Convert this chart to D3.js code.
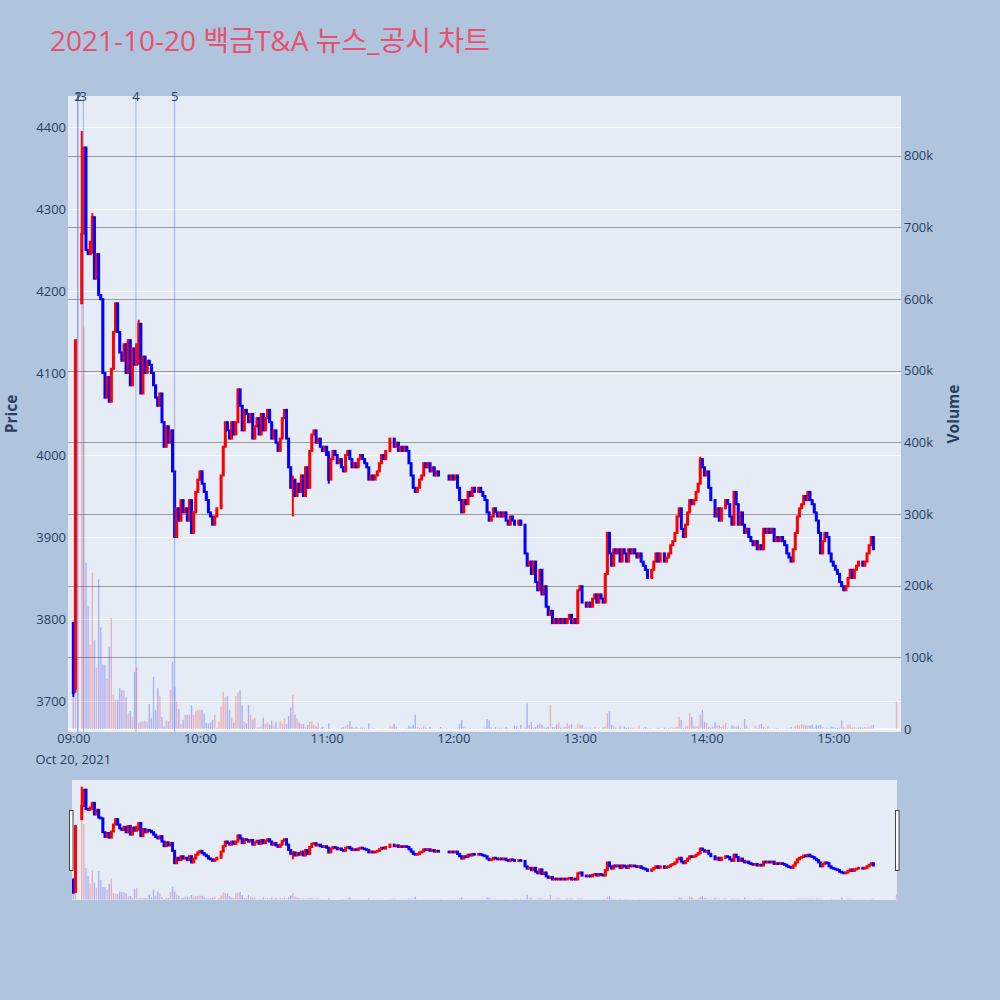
<!DOCTYPE html>
<html>
<head>
<meta charset="utf-8">
<script src="https://cdn.jsdelivr.net/npm/d3@7"></script>
<style>
  body { margin: 0; background: #B0C4DE; }
  svg { display: block; }
</style>
</head>
<body>
<div id="chart"></div>
<script>

// ---- data (1-minute candles from 09:00, null = no trade / VI halt) ----
var day = '2021-10-20';
var firstMinute = '09:00';

var closes = [
	3710, 4140, null, null, 4270, 4375, 4250, 4245, 4260, 4290,
	4215, 4245, 4195, 4190, 4100, 4070, 4095, 4065, 4105, 4150,
	4185, 4150, 4125, 4115, 4135, 4100, 4140, 4085, 4130, 4110,
	4135, 4160, 4075, 4120, 4100, 4115, 4110, 4100, 4085, 4070,
	4060, 4075, 4040, 4010, 4035, 4015, 4030, 3980, 3900, 3935,
	3920, 3945, 3930, 3935, 3920, 3945, 3905, 3930, 3955, 3970,
	3980, 3965, 3955, 3945, 3930, 3925, 3915, 3925, 3935, 3935,
	3975, 4010, 4040, 4030, 4020, 4040, 4025, 4040, 4080, 4060,
	4030, 4055, 4050, 4040, 4050, 4020, 4035, 4045, 4025, 4050,
	4030, 4045, 4055, 4040, 4020, 4030, 4015, 4005, 4020, 4045,
	4055, 4020, 3985, 3960, 3970, 3950, 3965, 3955, 3975, 3950,
	3985, 3960, 4005, 4025, 4030, 4015, 4020, 4010, 4005, 4010,
	4000, 3970, 3995, 4005, 4000, 3990, 3995, 3985, 3980, 4000,
	4005, 3995, 3985, 3990, 3985, 3995, 4000, 3995, 3990, 3985,
	3970, 3975, 3970, 3975, 3980, 3990, 4000, 3995, 4005, 4005,
	4020, 4020, 4010, 4015, 4005, 4010, 4005, 4010, 4005, 3990,
	3975, 3960, 3955, 3960, 3970, 3975, 3990, 3985, 3990, 3980,
	3985, 3975, 3980, 3975, 3975, 3975, 3975, 3975, 3970, 3975,
	3970, 3975, 3960, 3945, 3930, 3945, 3940, 3955, 3950, 3960,
	3955, 3955, 3960, 3955, 3950, 3945, 3930, 3920, 3925, 3935,
	3930, 3925, 3930, 3925, 3930, 3920, 3915, 3925, 3920, 3915,
	3915, 3920, 3915, 3915, 3880, 3865, 3870, 3855, 3870, 3845,
	3835, 3860, 3830, 3840, 3815, 3805, 3810, 3795, 3800, 3795,
	3800, 3795, 3800, 3795, 3800, 3805, 3795, 3800, 3795, 3835,
	3840, 3820, 3820, 3815, 3820, 3815, 3825, 3830, 3820, 3830,
	3825, 3820, 3855, 3905, 3880, 3865, 3885, 3880, 3885, 3870,
	3885, 3880, 3870, 3885, 3880, 3885, 3880, 3875, 3880, 3870,
	3865, 3860, 3850, 3850, 3860, 3870, 3880, 3870, 3880, 3880,
	3870, 3875, 3880, 3890, 3895, 3905, 3925, 3935, 3910, 3900,
	3915, 3930, 3945, 3940, 3945, 3955, 3965, 3995, 3985, 3975,
	3980, 3960, 3945, 3945, 3925, 3935, 3920, 3935, 3935, 3945,
	3940, 3925, 3915, 3955, 3940, 3915, 3930, 3915, 3905, 3910,
	3900, 3895, 3890, 3895, 3885, 3890, 3885, 3910, 3905, 3910,
	3905, 3910, 3895, 3900, 3895, 3900, 3895, 3890, 3880, 3875,
	3870, 3885, 3905, 3925, 3935, 3940, 3950, 3945, 3955, 3945,
	3940, 3930, 3920, 3905, 3880, 3895, 3905, 3900, 3880, 3870,
	3865, 3860, 3855, 3845, 3840, 3835, 3840, 3850, 3860, 3850,
	3860, 3865, 3870, 3870, 3865, 3870, 3880, 3890, 3900, 3885
];

// volume in thousands of shares
var volumes = [
	153, 230, null, null, 835, 560, 232, 172, 118, 218,
	124, 86, 209, 142, 90, 90, 70, 115, 155, 48,
	41, 41, 57, 54, 54, 45, 22, 25, 17, 80,
	86, 9, 10, 11, 11, 10, 35, 16, 73, 27,
	57, 46, 17, 4, 12, 11, 55, 94, 58, 39,
	28, 7, 13, 20, 20, 20, 33, 20, 25, 27,
	27, 27, 21, 9, 8, 10, 13, 20, 2, 11,
	31, 52, 44, 46, 27, 16, 9, 46, 51, 54,
	33, 11, 8, 34, 20, 13, 16, 2, 3, 4,
	16, 7, 9, 6, 12, 4, 10, 2, 11, 9,
	15, 7, 18, 30, 48, 20, 15, 9, 7, 7,
	3, 6, 10, 11, 6, 4, 9, 1, 3, 2,
	1, 8, 1, 0.5, 0.5, 0, 0.5, 2, 3, 4,
	6, 11, 3, 2, 3, 2, 2, 2, 1, 1,
	8, 0.5, 2, 1, 0.5, 0.5, 1, 0.5, 1, 1,
	4, 4, 7, 3, 0.5, 1, 0.5, 1, 1, 5,
	3, 6, 20, 3, 2, 2, 4, 2, 1, 3,
	1, 0.5, 1, 1, 3, 1, 0.5, 1, 0.5, 1,
	0.5, 1, 2, 7, 13, 3, 1, 0.5, 1, 0.5,
	1, 0.5, 1, 0.5, 1, 2, 14, 12, 3, 1,
	3, 1, 2, 1, 1, 3, 1, 1, 1, 5,
	4, 1, 6, 1, 2, 36, 6, 10, 2, 3,
	6, 9, 6, 3, 2, 3, 34, 3, 3, 7,
	9, 2, 2, 3, 9, 5, 7, 1, 1, 7,
	6, 6, 1, 2, 0.5, 2, 1, 3, 0.5, 2,
	0.5, 3, 4, 22, 25, 6, 5, 2, 1, 5,
	1, 4, 2, 3, 2, 2, 1, 1, 5, 1,
	1, 3, 1, 1, 1, 0.5, 1, 2, 1, 0.5,
	2, 1, 1, 2, 2, 2, 3, 17, 13, 1,
	4, 5, 23, 17, 5, 4, 4, 20, 27, 10,
	9, 3, 2, 3, 10, 5, 5, 3, 6, 9,
	1, 1, 5, 5, 3, 5, 2, 1, 14, 5,
	1, 0.5, 1, 5, 2, 6, 7, 3, 1, 4,
	1, 0.5, 1, 2, 1, 0.5, 1, 0.5, 1, 1,
	3, 1, 4, 6, 5, 7, 6, 5, 5, 5,
	6, 2, 6, 5, 6, 3, 1, 2, 1, 4,
	3, 2, 2, 2, 12, 2, 2, 6, 6, 2,
	3, 2, 3, 3, 2, 3, 2, 3, 5, 6
];

// opens that differ from the previous close: [minute, open]
var openGaps = [[0, 3795], [1, 3715], [4, 4185]];
// candles with visible shadows: [minute, high, low]
var wicks = [[0, 3795, 3705], [1, 4140, 3710], [4, 4395, 4185], [9, 4295, 4245], [31, 4165, 4110], [104, 3975, 3925], [121, 4005, 3965], [297, 3998, 3965]];

// closing single-price auction
var auctionTime = '15:30';
var auctionPrice = 3950;
var auctionVolume = 39;

// news / disclosure markers
var eventTimes = ['09:02:05', '09:02:10', '09:04:45', '09:29:40', '09:48:00'];
var eventLabels = ['1', '2', '3', '4', '5'];

var priceTicks = [3700, 3800, 3900, 4000, 4100, 4200, 4300, 4400];
var volumeTicks = [0, 100, 200, 300, 400, 500, 600, 700, 800];

var title = '2021-10-20 백금T&A 뉴스_공시 차트';

// ---- build candles ----
var parse = d3.timeParse('%Y-%m-%d %H:%M:%S');
var t0 = parse(day + ' ' + firstMinute + ':00');

var candles = [];
var prevClose = null;
var lastDir = 'up';
closes.forEach(function (c, i) {
	if (c === null) return;
	var gap = openGaps.find(function (g) { return g[0] === i; });
	var o = gap ? gap[1] : prevClose;
	var w = wicks.find(function (g) { return g[0] === i; });
	var dir = c > o ? 'up' : (c < o ? 'down' : lastDir);
	candles.push({
		t: d3.timeMinute.offset(t0, i),
		o: o, c: c,
		h: w ? w[1] : Math.max(o, c),
		l: w ? w[2] : Math.min(o, c),
		v: volumes[i],
		dir: dir
	});
	lastDir = dir;
	prevClose = c;
});
candles.push({
	t: parse(day + ' ' + auctionTime + ':00'),
	o: auctionPrice, c: auctionPrice, h: auctionPrice, l: auctionPrice,
	v: auctionVolume,
	dir: auctionPrice >= prevClose ? 'up' : 'down'
});

var colors = { up: '#ff0000', down: '#0000ff' };

// ---- layout ----
var W = 1000, H = 1000;
var plot = { left: 68, right: 901, top: 96, bottom: 732 };
var slider = { left: 72, right: 897, top: 780, bottom: 900 };
var font = '"Open Sans", verdana, arial, sans-serif';
var textColor = '#2a3f5f';
var tickSize = '13px';

var svg = d3.select('#chart').append('svg')
	.attr('width', W)
	.attr('height', H)
	.style('background', '#B0C4DE');

var x = d3.scaleTime()
	.domain([parse(day + ' 08:57:29'), parse(day + ' 15:32:06')])
	.range([plot.left, plot.right]);

var yPrice = d3.scaleLinear().domain([3662.2, 4437.8]).range([plot.bottom, plot.top]);
var yVol = d3.scaleLinear().domain([-4, 883]).range([plot.bottom, plot.top]);

var ySlidePrice = d3.scaleLinear().domain(yPrice.domain()).range([slider.bottom, slider.top]);
var ySlideVol = d3.scaleLinear().domain(yVol.domain()).range([slider.bottom, slider.top]);

var defs = svg.append('defs');
defs.append('clipPath').attr('id', 'clip-main')
	.append('rect')
	.attr('x', plot.left).attr('y', plot.top)
	.attr('width', plot.right - plot.left).attr('height', plot.bottom - plot.top);
defs.append('clipPath').attr('id', 'clip-slider')
	.append('rect')
	.attr('x', slider.left).attr('y', slider.top)
	.attr('width', slider.right - slider.left).attr('height', slider.bottom - slider.top);

// plot background
svg.append('rect')
	.attr('x', plot.left).attr('y', plot.top)
	.attr('width', plot.right - plot.left).attr('height', plot.bottom - plot.top)
	.attr('fill', '#E5ECF6');

// price grid (white)
svg.append('g').selectAll('line')
	.data(priceTicks)
	.join('line')
	.attr('x1', plot.left).attr('x2', plot.right)
	.attr('y1', function (d) { return Math.round(yPrice(d)) + 0.5; })
	.attr('y2', function (d) { return Math.round(yPrice(d)) + 0.5; })
	.attr('stroke', '#ffffff')
	.attr('stroke-width', 1);

// volume grid (grey)
svg.append('g').selectAll('line')
	.data(volumeTicks.filter(function (d) { return d > 0; }))
	.join('line')
	.attr('x1', plot.left).attr('x2', plot.right)
	.attr('y1', function (d) { return Math.round(yVol(d)) + 0.5; })
	.attr('y2', function (d) { return Math.round(yVol(d)) + 0.5; })
	.attr('stroke', '#9a9a9a')
	.attr('stroke-width', 1);

// volume zero line
svg.append('line')
	.attr('x1', plot.left).attr('x2', plot.right)
	.attr('y1', yVol(0)).attr('y2', yVol(0))
	.attr('stroke', '#ffffff')
	.attr('stroke-width', 2);

function drawSeries(g, yP, yV) {

	// volume bars
	g.append('g').selectAll('rect')
		.data(candles)
		.join('rect')
		.attr('x', function (d) { return x(d.t) - 0.7; })
		.attr('width', 1.4)
		.attr('y', function (d) { return yV(d.v); })
		.attr('height', function (d) { return yV(0) - yV(d.v); })
		.attr('fill', function (d) { return colors[d.dir]; })
		.attr('fill-opacity', 0.25);

	var c = g.append('g').selectAll('g')
		.data(candles)
		.join('g');

	// shadows
	c.append('line')
		.attr('x1', function (d) { return x(d.t); })
		.attr('x2', function (d) { return x(d.t); })
		.attr('y1', function (d) { return yP(d.h); })
		.attr('y2', function (d) { return yP(d.l); })
		.attr('stroke', function (d) { return colors[d.dir]; })
		.attr('stroke-width', 2);

	// bodies
	c.append('rect')
		.attr('x', function (d) { return x(d.t) - 0.5; })
		.attr('width', 1)
		.attr('y', function (d) { return yP(Math.max(d.o, d.c)); })
		.attr('height', function (d) { return Math.abs(yP(d.o) - yP(d.c)); })
		.attr('fill', function (d) { return colors[d.dir]; })
		.attr('stroke', function (d) { return colors[d.dir]; })
		.attr('stroke-width', 2);
}

var mainG = svg.append('g').attr('clip-path', 'url(#clip-main)');
drawSeries(mainG, yPrice, yVol);

// event markers
var events = eventTimes.map(function (t, i) {
	return { t: parse(day + ' ' + t), label: eventLabels[i] };
});

svg.append('g').selectAll('line')
	.data(events)
	.join('line')
	.attr('x1', function (d) { return x(d.t); })
	.attr('x2', function (d) { return x(d.t); })
	.attr('y1', plot.top)
	.attr('y2', plot.bottom)
	.attr('stroke', 'royalblue')
	.attr('stroke-opacity', 0.45)
	.attr('stroke-width', 1);

svg.append('g').selectAll('text')
	.data(events)
	.join('text')
	.attr('x', function (d) { return x(d.t); })
	.attr('y', plot.top + 5)
	.attr('text-anchor', 'middle')
	.attr('font-family', font)
	.attr('font-size', tickSize)
	.attr('fill', textColor)
	.text(function (d) { return d.label; });

// ---- axes ----
var axisLeft = svg.append('g')
	.attr('transform', 'translate(' + plot.left + ',0)')
	.call(d3.axisLeft(yPrice).tickValues(priceTicks).tickSize(0).tickPadding(2).tickFormat(d3.format('d')));

var axisRight = svg.append('g')
	.attr('transform', 'translate(' + plot.right + ',0)')
	.call(d3.axisRight(yVol).tickValues(volumeTicks).tickSize(0).tickPadding(3)
		.tickFormat(function (d) { return d === 0 ? '0' : d + 'k'; }));

var axisBottom = svg.append('g')
	.attr('transform', 'translate(0,' + plot.bottom + ')')
	.call(d3.axisBottom(x).ticks(d3.timeHour.every(1)).tickSize(0).tickPadding(2)
		.tickFormat(d3.timeFormat('%H:%M')));

[axisLeft, axisRight, axisBottom].forEach(function (a) {
	a.select('.domain').remove();
	a.selectAll('text')
		.attr('font-family', font)
		.attr('font-size', tickSize)
		.attr('fill', textColor);
});

svg.append('text')
	.attr('x', x(t0))
	.attr('y', 764)
	.attr('text-anchor', 'middle')
	.attr('font-family', font)
	.attr('font-size', tickSize)
	.attr('fill', textColor)
	.text(d3.timeFormat('%b %-d, %Y')(t0));

// axis titles
svg.append('text')
	.attr('transform', 'translate(17,' + (plot.top + plot.bottom) / 2 + ') rotate(-90)')
	.attr('text-anchor', 'middle')
	.attr('font-family', font)
	.attr('font-size', '15.5px')
	.attr('font-weight', 'bold')
	.attr('fill', textColor)
	.text('Price');

svg.append('text')
	.attr('transform', 'translate(959,' + (plot.top + plot.bottom) / 2 + ') rotate(-90)')
	.attr('text-anchor', 'middle')
	.attr('font-family', font)
	.attr('font-size', '15.5px')
	.attr('font-weight', 'bold')
	.attr('fill', textColor)
	.text('Volume');

// ---- range slider ----
svg.append('rect')
	.attr('x', slider.left).attr('y', slider.top)
	.attr('width', slider.right - slider.left).attr('height', slider.bottom - slider.top)
	.attr('fill', '#E5ECF6');

var slideG = svg.append('g').attr('clip-path', 'url(#clip-slider)');
drawSeries(slideG, ySlidePrice, ySlideVol);

[slider.left - 2.5, slider.right - 1.5].forEach(function (hx) {
	svg.append('rect')
		.attr('x', hx).attr('y', 810.5)
		.attr('width', 3.5).attr('height', 60)
		.attr('fill', '#ffffff')
		.attr('stroke', '#444')
		.attr('stroke-width', 1);
});

// ---- title ----
svg.append('text')
	.attr('x', 50)
	.attr('y', 51)
	.attr('font-family', '"Open Sans", "Noto Sans CJK KR", sans-serif')
	.attr('font-size', '28px')
	.attr('fill', '#e8506e')
	.text(title);

</script>
</body>
</html>
